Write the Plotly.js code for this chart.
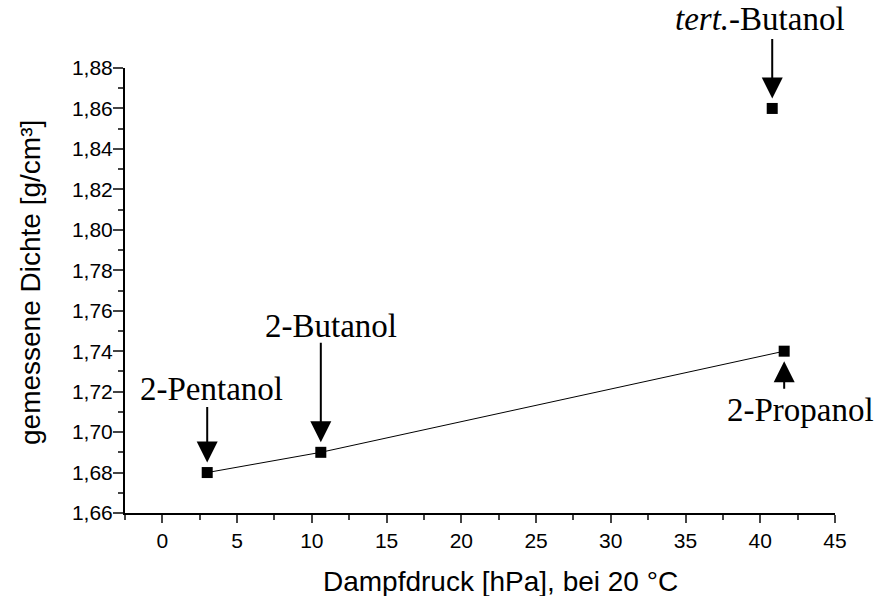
<!DOCTYPE html>
<html><head><meta charset="utf-8">
<script src="https://cdn.plot.ly/plotly-3.0.1.min.js"></script>
<style>body{margin:0;background:#fff}#c{width:879px;height:596px}</style>
</head><body><div id="c"></div>
<script>
// data
const names = ["2-Pentanol", "2-Butanol", "2-Propanol", "<i>tert.</i>-Butanol"];
const pressure = [3, 10.6, 41.6, 40.8];
const density = [1.68, 1.69, 1.74, 1.86];
const lineIdx = [0, 1, 2];
const xTitle = "Dampfdruck [hPa], bei 20 °C";
const yTitle = "gemessene Dichte [g/cm³]";

// label placement (pixels relative to the point)
const textShift = [[4, 84], [10, 126], [16, -59], [-12, 89]];
const arrowTail = [[0, -66], [0, -110], [0, 38], [0, -70]];

const traces = [
  {x: lineIdx.map(i => pressure[i]), y: lineIdx.map(i => density[i]), mode: 'lines',
   line: {color: '#000', width: 1}, hoverinfo: 'skip', showlegend: false},
  {x: pressure, y: density, mode: 'markers',
   marker: {symbol: 'square', size: 11, color: '#000'}, showlegend: false}
];

const serif = 'Liberation Serif, Times New Roman, serif';
const sans = 'Liberation Sans, Arial, sans-serif';
const ann = [];
names.forEach((n, i) => {
  ann.push({x: pressure[i], y: density[i], xref: 'x', yref: 'y', text: '',
    showarrow: true, ax: arrowTail[i][0], ay: arrowTail[i][1],
    font: {size: 1}, borderpad: 0,
    arrowhead: 2, arrowsize: 2.1, arrowwidth: 2, arrowcolor: '#000', standoff: 10});
  ann.push({x: pressure[i], y: density[i], xref: 'x', yref: 'y', text: n,
    showarrow: false, xshift: textShift[i][0], yshift: textShift[i][1],
    xanchor: 'center', yanchor: 'middle',
    font: {family: serif, size: 33, color: '#000'}});
});
ann.push({text: xTitle, xref: 'paper', yref: 'paper',
  x: (500 - 125) / 710, y: -(581 - 513) / 445, xanchor: 'center', yanchor: 'middle', showarrow: false,
  font: {family: sans, size: 28, color: '#000'}});
ann.push({text: yTitle, xref: 'paper', yref: 'paper', textangle: -90,
  x: -(125 - 30) / 710, y: (513 - 283) / 445, xanchor: 'center', yanchor: 'middle', showarrow: false,
  font: {family: sans, size: 28, color: '#000'}});

const layout = {
  width: 879, height: 596,
  margin: {l: 125, r: 44, t: 68, b: 83},
  paper_bgcolor: '#fff', plot_bgcolor: '#fff',
  separators: ', ',
  font: {family: sans, size: 21, color: '#000'},
  xaxis: {range: [-2.5, 45], tick0: 0, dtick: 5, ticks: 'outside', ticklen: 8, tickwidth: 2,
    showline: true, linewidth: 2, linecolor: '#000', showgrid: false, zeroline: false,
    minor: {dtick: 2.5, tick0: 0, ticks: 'outside', ticklen: 5, tickwidth: 2, showgrid: false}},
  yaxis: {range: [1.66, 1.88], tick0: 1.66, dtick: 0.02, tickformat: '.2f', ticks: 'outside', ticklen: 10, tickwidth: 2,
    ticklabelstandoff: -4,
    showline: true, linewidth: 2, linecolor: '#000', showgrid: false, zeroline: false,
    minor: {dtick: 0.01, ticks: 'outside', ticklen: 5, tickwidth: 2, showgrid: false}},
  annotations: ann
};
Plotly.newPlot('c', traces, layout, {displayModeBar: false, staticPlot: true});
</script></body></html>
